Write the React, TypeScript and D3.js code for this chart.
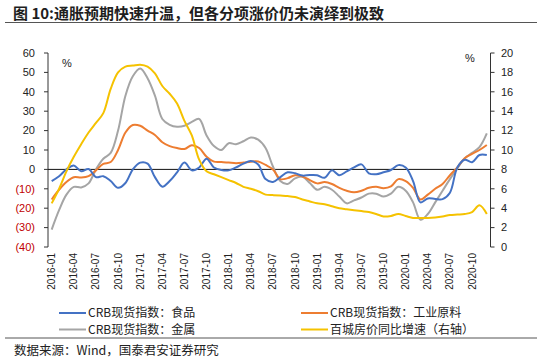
import React from 'react';
import * as d3 from 'd3';

// categories: monthly, 2016-01 .. 2020-12
const fmt = d3.timeFormat('%Y-%m');
const months = d3.timeMonth.range(new Date(2016, 0, 1), new Date(2021, 0, 1)).map(d => fmt(d));

const xTickLabels = [
  '2016-01', '2016-04', '2016-07', '2016-10', '2017-01', '2017-04', '2017-07', '2017-10',
  '2018-01', '2018-04', '2018-07', '2018-10', '2019-01', '2019-04', '2019-07', '2019-10',
  '2020-01', '2020-04', '2020-07', '2020-10'
];
const leftTicks = [60, 50, 40, 30, 20, 10, 0, -10, -20, -30, -40];
const rightTicks = [20, 18, 16, 14, 12, 10, 8, 6, 4, 2, 0];

// CRB现货指数：食品
const food = [
  -6, -3.5, 0, 2, -1, 0.2, -4, -3.5, -6, -9.5,
  -7, 0, 3.5, 3, -4, -8.9, -6, -1.5, 3.5, -0.5,
  1, 5.5, 1, -0.3, -0.5, 1, 3, 4.3, 2.5, -5,
  -6.5, -4, -1.5, -2, -3.2, -2.9, -3, -4.3, -0.5, -3,
  -1, 1, 2.6, -2, -2.5, -1.5, -0.3, 2.2, 1, -6,
  -17, -15, -15.2, -15.3, -12, 1, 5, 3.7, 7.4, 7.4
];
// CRB现货指数：工业原料
const industrial = [
  -15.5, -10.5, -6.5, -4, -4.2, -3.5, -0.5, 2.8, 3.8, 10,
  19, 22.9, 22.5, 20, 17.7, 14, 12, 11, 10.5, 12.5,
  11, 6.5, 4, 3.8, 3.5, 3.2, 3.5, 4, 4.1, 2.3,
  0, -5, -4.5, -3, -3.7, -5.5, -7.2, -6.5, -7.5, -9.5,
  -11, -11.8, -11, -9.5, -9, -9.7, -8.8, -5, -6, -9.5,
  -15.5, -13, -10, -7.5, -3, 1, 5.7, 8, 10, 12.6
];
// CRB现货指数：金属
const metals = [
  -31, -21, -13, -9, -9.3, -7.2, 0, 5.5, 8.5, 20,
  38, 48, 52, 47, 38, 26, 23, 22, 22.5, 24.5,
  26, 17.5, 12, 10, 13.5, 13, 14.5, 16.4, 15.3, 11,
  1.5, -6, -7.5, -4.6, -3.8, -7, -10.5, -9, -10.5, -14,
  -17.5, -16, -14.5, -12.5, -12.5, -14, -12.5, -9, -11, -17,
  -26, -23, -17, -11, -5, 0.5, 5.7, 8.5, 11.5, 18.6
];
// 百城房价同比增速（右轴）
const housing = [
  4.5, 6.0, 7.8, 9.3, 10.6, 11.8, 12.8, 13.8, 16.3, 18.0,
  18.6, 18.7, 18.8, 18.6, 17.9, 16.6, 15.8, 14.8, 13.0, 11.5,
  9.0, 7.8, 7.5, 7.2, 6.9, 6.6, 6.2, 6.0, 5.75, 5.4,
  5.35, 5.3, 5.25, 5.15, 4.9, 4.7, 4.5, 4.4, 4.2, 4.0,
  3.9, 3.8, 3.7, 3.6, 3.4, 3.15, 3.2, 3.4, 3.2, 3.0,
  3.0, 3.0, 3.05, 3.15, 3.3, 3.35, 3.4, 3.6, 4.3, 3.4
];

const series = [
  { name: 'CRB现货指数：食品', values: food, color: '#4472C4', axis: 'left' },
  { name: 'CRB现货指数：工业原料', values: industrial, color: '#ED7D31', axis: 'left' },
  { name: 'CRB现货指数：金属', values: metals, color: '#A5A5A5', axis: 'left' },
  { name: '百城房价同比增速（右轴）', values: housing, color: '#F5C200', axis: 'right' }
];

const W = 550;
const H = 359;
const plot = { left: 48, right: 490.5, top: 53, bottom: 247 };
const cjk = '"Noto Sans CJK SC", "Noto Sans", sans-serif';
const latin = '"Liberation Sans", Arial, sans-serif';

export default function App() {
  const x = d3.scaleBand().domain(months).range([plot.left, plot.right]).padding(0);
  const cx = (m: string) => (x(m) as number) + x.bandwidth() / 2;
  const yL = d3.scaleLinear().domain([-40, 60]).range([plot.bottom, plot.top]);
  const yR = d3.scaleLinear().domain([0, 20]).range([plot.bottom, plot.top]);

  const lineFor = (axis: string) =>
    d3
      .line<number>()
      .x((d, i) => cx(months[i]))
      .y(d => (axis === 'left' ? yL(d) : yR(d)))
      .curve(d3.curveCatmullRom.alpha(0.5));

  // yellow drawn last, it sits on top in the reference
  const drawOrder = [2, 1, 0, 3];

  const legendItems = [
    { s: series[0], x: 59, y: 313 },
    { s: series[1], x: 301, y: 313 },
    { s: series[2], x: 59, y: 329.5 },
    { s: series[3], x: 301, y: 329.5 }
  ];

  return (
    <svg width={W} height={H} style={{ position: 'absolute', left: 0, top: 0, background: '#fff' }}>
      {/* title */}
      <text x={13} y={18.5} fontFamily={cjk} fontWeight="bold" fontSize={15} fill="#1e1e1e">
        图 10:通胀预期快速升温，但各分项涨价仍未演绎到极致
      </text>
      <line x1={5} x2={537} y1={22.5} y2={22.5} stroke="#555" strokeWidth={1} />

      {/* left axis */}
      <line x1={plot.left} x2={plot.left} y1={plot.top} y2={plot.bottom} stroke="#333" />
      {leftTicks.map(t => (
        <g key={'l' + t}>
          <line x1={plot.left - 4} x2={plot.left} y1={yL(t)} y2={yL(t)} stroke="#333" />
          <text
            x={35}
            y={yL(t)}
            dy="0.35em"
            textAnchor="end"
            fontFamily={latin}
            fontSize={11}
            fill={t < 0 ? '#C00000' : '#222'}
          >
            {t < 0 ? `(${-t})` : t}
          </text>
        </g>
      ))}
      <text x={62} y={67} fontFamily={latin} fontSize={11} fill="#222">%</text>

      {/* right axis */}
      <line x1={plot.right} x2={plot.right} y1={plot.top} y2={plot.bottom} stroke="#333" />
      {rightTicks.map(t => (
        <g key={'r' + t}>
          <line x1={plot.right} x2={plot.right + 4} y1={yR(t)} y2={yR(t)} stroke="#333" />
          <text x={501} y={yR(t)} dy="0.35em" fontFamily={latin} fontSize={11} fill="#222">
            {t}
          </text>
        </g>
      ))}
      <text x={465} y={62} fontFamily={latin} fontSize={11} fill="#222">%</text>

      {/* zero line */}
      <line x1={plot.left} x2={plot.right} y1={yL(0)} y2={yL(0)} stroke="#111" strokeWidth={1} />

      {/* x labels */}
      {xTickLabels.map(l => (
        <text
          key={l}
          transform={`translate(${cx(l) + 3.5},${plot.bottom + 6}) rotate(-90)`}
          textAnchor="end"
          fontFamily={latin}
          fontSize={10}
          fill="#222"
        >
          {l}
        </text>
      ))}

      {/* series */}
      {drawOrder.map(i => (
        <path
          key={series[i].name}
          d={lineFor(series[i].axis)(series[i].values) as string}
          fill="none"
          stroke={series[i].color}
          strokeWidth={2}
        />
      ))}

      {/* legend */}
      {legendItems.map(({ s, x: lx, y: ly }) => (
        <g key={s.name}>
          <line x1={lx} x2={lx + 27} y1={ly} y2={ly} stroke={s.color} strokeWidth={2} />
          <text x={lx + 29} y={ly} dy="0.36em" fontFamily={cjk} fontSize={12} fill="#222">
            {s.name}
          </text>
        </g>
      ))}
      <line x1={5} x2={537} y1={338} y2={338} stroke="#555" strokeWidth={1} />

      {/* source */}
      <text x={14} y={355} fontFamily={cjk} fontSize={12.5} fill="#222">
        数据来源：Wind，国泰君安证券研究
      </text>
    </svg>
  );
}
